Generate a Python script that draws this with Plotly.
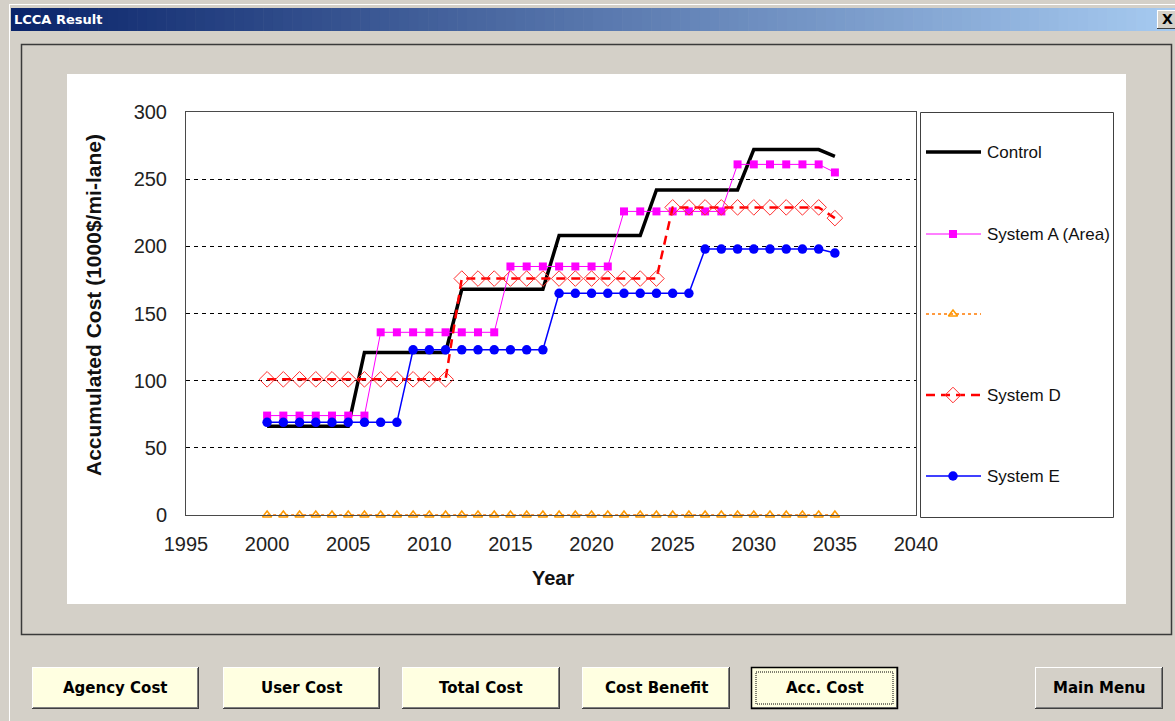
import plotly.graph_objects as go

# ---------------------------------------------------------------- data
years = [2000, 2001, 2002, 2003, 2004, 2005, 2006, 2007, 2008, 2009,
         2010, 2011, 2012, 2013, 2014, 2015, 2016, 2017, 2018, 2019,
         2020, 2021, 2022, 2023, 2024, 2025, 2026, 2027, 2028, 2029,
         2030, 2031, 2032, 2033, 2034, 2035]

control = [66, 66, 66, 66, 66, 66, 121, 121, 121, 121, 121, 121,
           168, 168, 168, 168, 168, 168, 208, 208, 208, 208, 208, 208,
           242, 242, 242, 242, 242, 242, 272, 272, 272, 272, 272, 267]

system_a = [74, 74, 74, 74, 74, 74, 74, 136, 136, 136, 136, 136,
            136, 136, 136, 185, 185, 185, 185, 185, 185, 185, 226, 226,
            226, 226, 226, 226, 226, 261, 261, 261, 261, 261, 261, 255]

unnamed = [0, 0, 0, 0, 0, 0, 0, 0, 0, 0, 0, 0,
           0, 0, 0, 0, 0, 0, 0, 0, 0, 0, 0, 0,
           0, 0, 0, 0, 0, 0, 0, 0, 0, 0, 0, 0]

system_d = [101, 101, 101, 101, 101, 101, 101, 101, 101, 101, 101, 101,
            176, 176, 176, 176, 176, 176, 176, 176, 176, 176, 176, 176,
            176, 229, 229, 229, 229, 229, 229, 229, 229, 229, 229, 221]

system_e = [69, 69, 69, 69, 69, 69, 69, 69, 69, 123, 123, 123,
            123, 123, 123, 123, 123, 123, 165, 165, 165, 165, 165, 165,
            165, 165, 165, 198, 198, 198, 198, 198, 198, 198, 198, 195]

series_names = ["Control", "System A (Area)", "", "System D", "System E"]
x_ticks = [1995, 2000, 2005, 2010, 2015, 2020, 2025, 2030, 2035, 2040]
y_ticks = [0, 50, 100, 150, 200, 250, 300]
buttons = ["Agency Cost", "User Cost", "Total Cost", "Cost Benefit", "Acc. Cost", "Main Menu"]

# ---------------------------------------------------------------- page geometry (pixels)
W, H = 1175, 721


def fx(px):
    return px / W


def fy(py):
    return 1 - py / H


PLOT_L, PLOT_R, PLOT_T, PLOT_B = 186, 916, 112, 515
LEG_L, LEG_R, LEG_T, LEG_B = 920, 1114, 112, 518
WIN_BG = "#D4D0C8"

styles = [
    dict(mode="lines", line=dict(color="#000000", width=3.5)),
    dict(mode="lines+markers", line=dict(color="#FF00FF", width=1),
         marker=dict(symbol="square", size=8, color="#FF00FF")),
    dict(mode="lines+markers", line=dict(color="#FF7A00", width=1.5, dash="dot"),
         marker=dict(symbol="triangle-up-open", size=8, color="#FF9900",
                     line=dict(width=1.5, color="#FF9900"))),
    dict(mode="lines+markers", line=dict(color="#FF0000", width=2.5, dash="9px,6px"),
         marker=dict(symbol="diamond-open", size=12, color="#FF3030",
                     line=dict(width=1, color="#FF3030"))),
    dict(mode="lines+markers", line=dict(color="#0000FF", width=1.5),
         marker=dict(symbol="circle", size=9.5, color="#0000FF")),
]

fig = go.Figure()

for name, vals, st in zip(series_names, [control, system_a, unnamed, system_d, system_e], styles):
    fig.add_trace(go.Scatter(x=years, y=vals, name=name, showlegend=False,
                             cliponaxis=False, hoverinfo="skip", **st))


def note(px, py, text, size, family="Liberation Sans", color="#111", xanchor="center", **kw):
    fig.add_annotation(x=fx(px), y=fy(py), xref="paper", yref="paper", text=text,
                       showarrow=False, xanchor=xanchor, yanchor="middle",
                       font=dict(family=family, size=size, color=color), **kw)


# ---------------------------------------------------------------- hand-built legend on a pixel overlay axis
leg_rows = [152, 234, 314, 395, 476]
for name, st, ry in zip(series_names, styles, leg_rows):
    fig.add_trace(go.Scatter(x=[926, 981], y=[ry, ry], mode="lines", line=st["line"],
                             xaxis="x2", yaxis="y2", showlegend=False, hoverinfo="skip"))
    if "marker" in st:
        fig.add_trace(go.Scatter(x=[953], y=[ry], mode="markers", marker=st["marker"],
                                 xaxis="x2", yaxis="y2", showlegend=False, hoverinfo="skip"))
    if name:
        note(985, ry, name, 17, xanchor="left")

shapes = []


def rect(x0, y0, x1, y1, fill=None, line=None, lw=1, dash=None, layer="below"):
    ln = dict(width=0) if line is None else dict(color=line, width=lw)
    if dash:
        ln["dash"] = dash
    shapes.append(dict(type="rect", xref="paper", yref="paper",
                       x0=fx(x0), x1=fx(x1), y0=fy(y0), y1=fy(y1),
                       fillcolor=fill if fill else "rgba(0,0,0,0)", line=ln, layer=layer))


def hline(x0, x1, y, color, lw=1, layer="below"):
    shapes.append(dict(type="line", xref="paper", yref="paper", x0=fx(x0), x1=fx(x1),
                       y0=fy(y), y1=fy(y), line=dict(color=color, width=lw), layer=layer))


def vline(x, y0, y1, color, lw=1, layer="below"):
    shapes.append(dict(type="line", xref="paper", yref="paper", x0=fx(x), x1=fx(x),
                       y0=fy(y0), y1=fy(y1), line=dict(color=color, width=lw), layer=layer))


# window frame
hline(9, W, 4.5, "#FFFFFF")
vline(9.5, 4, H, "#FFFFFF")

# title bar gradient
c0, c1 = (10, 36, 106), (166, 202, 240)
n = 120
x_start, x_end = 11, W
for i in range(n):
    t = i / (n - 1)
    col = "rgb({},{},{})".format(*[round(a + (b - a) * t) for a, b in zip(c0, c1)])
    xa = x_start + (x_end - x_start) * i / n
    xb = x_start + (x_end - x_start) * (i + 1) / n + 0.6
    rect(xa, 8, xb, 31, fill=col)

# close button
rect(1157, 10, W + 2, 29, fill=WIN_BG)
hline(1157, W, 10.5, "#FFFFFF")
vline(1157.5, 10, 29, "#FFFFFF")
hline(1157, W, 28.5, "#404040")

# panel
rect(21.5, 44.5, 1171.5, 634.5, line="#3A3A3A", lw=1.5)

# white chart area
rect(67, 74, 1126, 604, fill="#FFFFFF")

# legend box
rect(LEG_L + 0.5, LEG_T + 0.5, LEG_R - 0.5, LEG_B - 0.5, fill="#FFFFFF", line="#404040", lw=1)

# buttons
btn_x = [(32, 199), (223, 380), (402, 560), (582, 730), (751, 898), (1035, 1163)]
BTN_T, BTN_B = 667, 709
for label, (x0, x1) in zip(buttons, btn_x):
    face = WIN_BG if label == "Main Menu" else "#FFFFE1"
    rect(x0, BTN_T, x1, BTN_B, fill=face)
    hline(x0, x1, BTN_T + 0.5, "#FFFFFF")
    vline(x0 + 0.5, BTN_T, BTN_B, "#FFFFFF")
    hline(x0, x1, BTN_B - 0.5, "#404040")
    vline(x1 - 0.5, BTN_T, BTN_B, "#404040")
    hline(x0 + 1, x1 - 1, BTN_B - 1.5, "#808080")
    vline(x1 - 1.5, BTN_T + 1, BTN_B - 1, "#808080")
    if label == "Acc. Cost":
        rect(x0 + 0.5, BTN_T + 0.5, x1 - 0.5, BTN_B - 0.5, line="#000000", lw=1.5)
        rect(x0 + 5, BTN_T + 5, x1 - 5, BTN_B - 5, line="#000000", lw=1, dash="1px,1px")
    note((x0 + x1) / 2, (BTN_T + BTN_B) / 2, "<b>" + label + "</b>", 15,
         family="DejaVu Sans", color="#000")

# title text and close glyph
note(12, 19.5, "<b>LCCA Result</b>", 13, family="DejaVu Sans", color="#FFFFFF", xanchor="left")
note(1167, 19.5, "<b>X</b>", 14, family="DejaVu Sans", color="#000")

# axis titles
note(93, 305, "<b>Accumulated Cost (1000$/mi-lane)</b>", 21, textangle=-90)
note(553, 578, "<b>Year</b>", 20)

axis_font = dict(family="Liberation Sans", size=20, color="#222")
fig.update_layout(
    template="none",
    width=W, height=H, margin=dict(l=0, r=0, t=0, b=0, pad=0, autoexpand=False),
    paper_bgcolor=WIN_BG, plot_bgcolor="rgba(0,0,0,0)",
    showlegend=False, shapes=shapes,
    xaxis=dict(domain=[fx(PLOT_L), fx(PLOT_R)], range=[1995, 2040], tickvals=x_ticks,
               showgrid=False, zeroline=False, showline=True, linecolor="#4A4A4A", linewidth=1,
               mirror=True, ticks="", tickfont=axis_font, ticklabelstandoff=11,
               automargin=False, fixedrange=True),
    yaxis=dict(domain=[fy(PLOT_B), fy(PLOT_T)], range=[0, 300], tickvals=y_ticks,
               showgrid=True, gridcolor="#000000", gridwidth=1, griddash="4px,4px",
               zeroline=False, showline=True, linecolor="#4A4A4A", linewidth=1, mirror=True,
               ticks="", tickfont=axis_font, ticklabelstandoff=14,
               automargin=False, fixedrange=True),
    xaxis2=dict(domain=[0, 1], range=[0, W], visible=False, fixedrange=True, anchor="y2",
                automargin=False),
    yaxis2=dict(domain=[0, 1], range=[H, 0], visible=False, fixedrange=True, anchor="x2",
                automargin=False),
)

fig.write_html("out.html", config=dict(displayModeBar=False, staticPlot=True))
